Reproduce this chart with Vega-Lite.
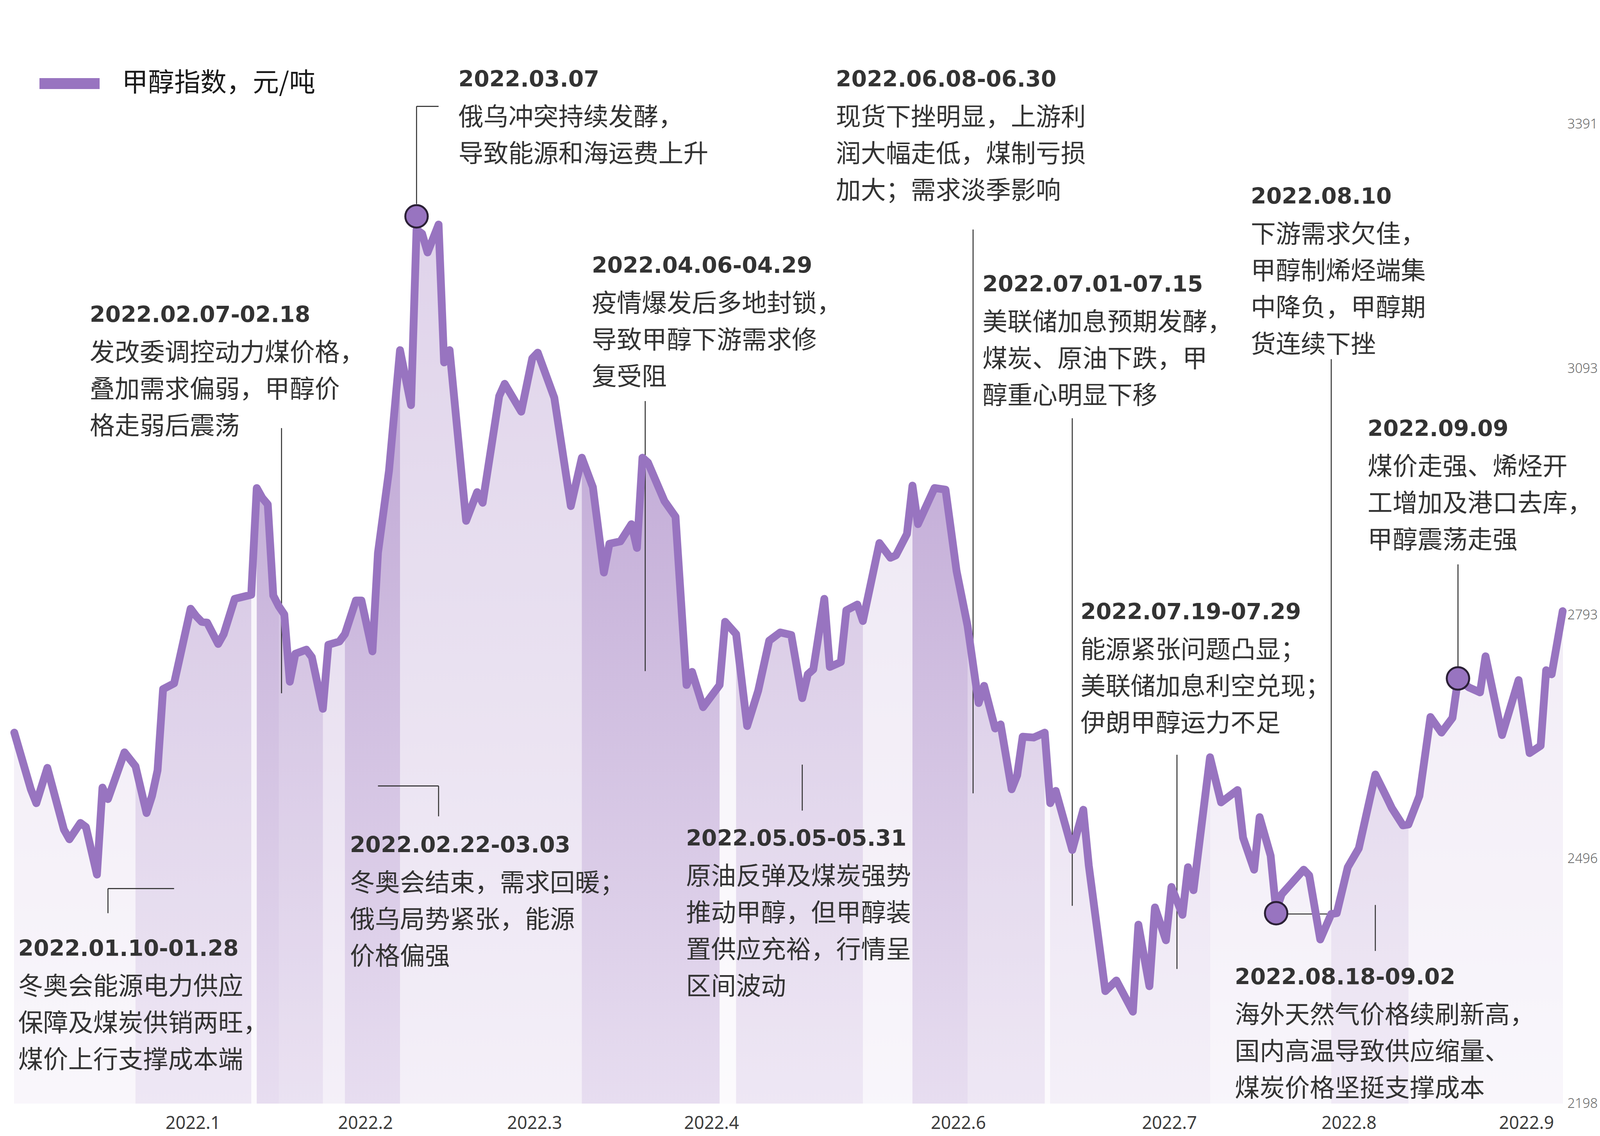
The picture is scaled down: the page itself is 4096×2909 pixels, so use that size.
{
  "$schema": "https://vega.github.io/schema/vega-lite/v6.json",
  "width": 4002,
  "height": 2826,
  "autosize": {"type": "none"},
  "padding": {"left": 0, "top": 0, "right": 94, "bottom": 83},
  "background": "#ffffff",
  "config": {"view": {"stroke": null}},
  "datasets": {
    "price": [
      {"day":0,"value":2650},{"day":3,"value":2581},{"day":4,"value":2564},{"day":6,"value":2607},{"day":9,"value":2532},{"day":10,"value":2520},{"day":12,"value":2540},{"day":13,"value":2535},{"day":15,"value":2477},{"day":16,"value":2583},{"day":17,"value":2569},{"day":20,"value":2626},{"day":22,"value":2609},{"day":24,"value":2552},{"day":25,"value":2573},{"day":26,"value":2604},{"day":27,"value":2703},{"day":29,"value":2710},{"day":32,"value":2801},{"day":33,"value":2792},{"day":34,"value":2785},{"day":35,"value":2784},{"day":37,"value":2758},{"day":38,"value":2770},{"day":40,"value":2813},{"day":43,"value":2818},{"day":44,"value":2948},{"day":45,"value":2936},{"day":46,"value":2928},{"day":47,"value":2817},{"day":48,"value":2804},{"day":49,"value":2794},{"day":50,"value":2712},{"day":51,"value":2746},{"day":53,"value":2751},{"day":54,"value":2742},{"day":56,"value":2679},{"day":57,"value":2757},{"day":59,"value":2761},{"day":60,"value":2770},{"day":62,"value":2811},{"day":63,"value":2811},{"day":65,"value":2749},{"day":66,"value":2869},{"day":68,"value":2969},{"day":70,"value":3116},{"day":72,"value":3049},{"day":73,"value":3263},{"day":74,"value":3258},{"day":75,"value":3235},{"day":77,"value":3269},{"day":78,"value":3101},{"day":79,"value":3116},{"day":82,"value":2908},{"day":84,"value":2943},{"day":85,"value":2930},{"day":88,"value":3060},{"day":89,"value":3075},{"day":92,"value":3041},{"day":94,"value":3106},{"day":95,"value":3113},{"day":98,"value":3058},{"day":101,"value":2926},{"day":103,"value":2985},{"day":105,"value":2949},{"day":107,"value":2845},{"day":108,"value":2880},{"day":110,"value":2883},{"day":112,"value":2904},{"day":113,"value":2875},{"day":114,"value":2985},{"day":115,"value":2979},{"day":118,"value":2932},{"day":120,"value":2913},{"day":122,"value":2708},{"day":123,"value":2724},{"day":125,"value":2681},{"day":128,"value":2708},{"day":129,"value":2785},{"day":131,"value":2770},{"day":133,"value":2658},{"day":135,"value":2701},{"day":137,"value":2762},{"day":139,"value":2772},{"day":141,"value":2769},{"day":143,"value":2692},{"day":144,"value":2721},{"day":145,"value":2727},{"day":147,"value":2813},{"day":148,"value":2730},{"day":150,"value":2736},{"day":151,"value":2799},{"day":153,"value":2806},{"day":154,"value":2786},{"day":157,"value":2881},{"day":159,"value":2863},{"day":160,"value":2866},{"day":162,"value":2892},{"day":163,"value":2951},{"day":164,"value":2904},{"day":167,"value":2948},{"day":169,"value":2946},{"day":171,"value":2847},{"day":173,"value":2780},{"day":175,"value":2686},{"day":176,"value":2707},{"day":178,"value":2655},{"day":179,"value":2660},{"day":181,"value":2581},{"day":182,"value":2598},{"day":183,"value":2645},{"day":185,"value":2644},{"day":187,"value":2650},{"day":188,"value":2564},{"day":189,"value":2579},{"day":192,"value":2507},{"day":194,"value":2556},{"day":195,"value":2488},{"day":198,"value":2335},{"day":200,"value":2348},{"day":203,"value":2310},{"day":204,"value":2416},{"day":206,"value":2341},{"day":207,"value":2437},{"day":209,"value":2397},{"day":210,"value":2462},{"day":212,"value":2428},{"day":213,"value":2486},{"day":214,"value":2458},{"day":217,"value":2620},{"day":219,"value":2565},{"day":222,"value":2580},{"day":223,"value":2522},{"day":225,"value":2483},{"day":226,"value":2547},{"day":228,"value":2500},{"day":229,"value":2433},{"day":230,"value":2453},{"day":234,"value":2483},{"day":235,"value":2476},{"day":237,"value":2398},{"day":239,"value":2429},{"day":240,"value":2430},{"day":242,"value":2486},{"day":244,"value":2509},{"day":247,"value":2599},{"day":249,"value":2572},{"day":250,"value":2558},{"day":252,"value":2537},{"day":253,"value":2538},{"day":255,"value":2573},{"day":257,"value":2669},{"day":259,"value":2650},{"day":261,"value":2668},{"day":262,"value":2715},{"day":264,"value":2705},{"day":266,"value":2699},{"day":267,"value":2743},{"day":270,"value":2647},{"day":273,"value":2714},{"day":275,"value":2625},{"day":277,"value":2634},{"day":278,"value":2726},{"day":279,"value":2721},{"day":281,"value":2798}
    ],
    "grid": [{"value":2198},{"value":2496},{"value":2793},{"value":3093},{"value":3391}],
    "leaders": [
      {"day":17,"day2":17,"value":2460,"value2":2430},
      {"day":17,"day2":29,"value":2460,"value2":2460},
      {"day":48.5,"day2":48.5,"value":3021,"value2":2698},
      {"day":73,"day2":73,"value":3413,"value2":3294},
      {"day":73,"day2":77,"value":3413,"value2":3413},
      {"day":66,"day2":77,"value":2585,"value2":2585},
      {"day":77,"day2":77,"value":2585,"value2":2548},
      {"day":114.5,"day2":114.5,"value":3054,"value2":2725},
      {"day":143,"day2":143,"value":2611,"value2":2555},
      {"day":174,"day2":174,"value":3263,"value2":2576},
      {"day":192,"day2":192,"value":3033,"value2":2439},
      {"day":211,"day2":211,"value":2623,"value2":2362},
      {"day":239,"day2":239,"value":3105,"value2":2429},
      {"day":229,"day2":239,"value":2429,"value2":2429},
      {"day":247,"day2":247,"value":2440,"value2":2384},
      {"day":262,"day2":262,"value":2855,"value2":2716}
    ],
    "markers": [{"day":73,"value":3279},{"day":229,"value":2430},{"day":262,"value":2716}],
    "notes": [
      {"day":0.7,"value":2388,"head":"2022.01.10-01.28","body":"冬奥会能源电力供应\n保障及煤炭供销两旺，\n煤价上行支撑成本端"},
      {"day":13.7,"value":3160,"head":"2022.02.07-02.18","body":"发改委调控动力煤价格，\n叠加需求偏弱，甲醇价\n格走弱后震荡"},
      {"day":80.6,"value":3447,"head":"2022.03.07","body":"俄乌冲突持续发酵，\n导致能源和海运费上升"},
      {"day":60.9,"value":2514,"head":"2022.02.22-03.03","body":"冬奥会结束，需求回暖；\n俄乌局势紧张，能源\n价格偏强"},
      {"day":104.8,"value":3220,"head":"2022.04.06-04.29","body":"疫情爆发后多地封锁，\n导致甲醇下游需求修\n复受阻"},
      {"day":121.9,"value":2522,"head":"2022.05.05-05.31","body":"原油反弹及煤炭强势\n推动甲醇，但甲醇装\n置供应充裕，行情呈\n区间波动"},
      {"day":149.1,"value":3447,"head":"2022.06.08-06.30","body":"现货下挫明显，上游利\n润大幅走低，煤制亏损\n加大；需求淡季影响"},
      {"day":175.7,"value":3197,"head":"2022.07.01-07.15","body":"美联储加息预期发酵，\n煤炭、原油下跌，甲\n醇重心明显下移"},
      {"day":193.5,"value":2798,"head":"2022.07.19-07.29","body":"能源紧张问题凸显；\n美联储加息利空兑现；\n伊朗甲醇运力不足"},
      {"day":224.4,"value":3304,"head":"2022.08.10","body":"下游需求欠佳，\n甲醇制烯烃端集\n中降负，甲醇期\n货连续下挫"},
      {"day":221.5,"value":2353,"head":"2022.08.18-09.02","body":"海外天然气价格续刷新高，\n国内高温导致供应缩量、\n煤炭价格坚挺支撑成本"},
      {"day":245.6,"value":3021,"head":"2022.09.09","body":"煤价走强、烯烃开\n工增加及港口去库，\n甲醇震荡走强"}
    ]
  },
  "encoding": {
    "x": {
      "field": "day", "type": "quantitative", "title": null,
      "scale": {"domain": [-2.593, 281.11], "nice": false, "zero": false},
      "axis": {
        "orient": "bottom",
        "values": [32.4, 63.7, 94.4, 126.5, 171.3, 209.6, 242.2, 274.4],
        "labelExpr": "['2022.1','2022.2','2022.3','2022.4','2022.6','2022.7','2022.8','2022.9'][indexof([32.4, 63.7, 94.4, 126.5, 171.3, 209.6, 242.2, 274.4], datum.value)]",
        "grid": false, "domain": false, "ticks": false, "tickSize": 0,
        "labelPadding": 28, "labelFont": "Noto Sans", "labelFontSize": 45,
        "labelColor": "#3d3d3d", "labelOverlap": false, "labelBound": false,
        "labelFlush": false, "labelLimit": 400
      }
    },
    "y": {
      "field": "value", "type": "quantitative", "title": null,
      "scale": {"domain": [2198, 3542.6], "nice": false, "zero": false},
      "axis": {
        "orient": "right",
        "values": [2198, 2496, 2793, 3093, 3391],
        "format": "d",
        "grid": false, "domain": false, "ticks": false, "tickSize": 0,
        "labelPadding": 10, "labelFont": "Noto Sans", "labelFontSize": 34,
        "labelFontWeight": 300, "labelColor": "#666666", "labelAlign": "left",
        "labelBaseline": "middle", "labelFlush": false, "labelOverlap": false, "labelLimit": 400
      }
    }
  },
  "layer": [
    {
      "data": {"name": "price"},
      "mark": {
        "type": "area",
        "color": {
          "gradient": "linear", "x1": 0, "y1": 0, "x2": 0, "y2": 1,
          "stops": [
            {"offset": 0, "color": "#b99ed1"},
            {"offset": 0.4, "color": "#cab6dc"},
            {"offset": 1, "color": "#e7ddf0"}
          ]
        }
      },
      "encoding": {"y2": {"datum": 2198}}
    },
    {"data": {"name": "price"}, "transform": [{"filter": "datum.day >= 0 && datum.day <= 22"}], "mark": {"type": "area", "color": "#ffffff", "opacity": 0.74}, "encoding": {"y2": {"datum": 2198}}},
    {"data": {"name": "price"}, "transform": [{"filter": "datum.day >= 22 && datum.day <= 43"}], "mark": {"type": "area", "color": "#ffffff", "opacity": 0.3}, "encoding": {"y2": {"datum": 2198}}},
    {"data": {"name": "price"}, "transform": [{"filter": "datum.day >= 43 && datum.day <= 44"}], "mark": {"type": "area", "color": "#ffffff", "opacity": 0.85}, "encoding": {"y2": {"datum": 2198}}},
    {"data": {"name": "price"}, "transform": [{"filter": "datum.day >= 48 && datum.day <= 56"}], "mark": {"type": "area", "color": "#ffffff", "opacity": 0.15}, "encoding": {"y2": {"datum": 2198}}},
    {"data": {"name": "price"}, "transform": [{"filter": "datum.day >= 56 && datum.day <= 60"}], "mark": {"type": "area", "color": "#ffffff", "opacity": 0.55}, "encoding": {"y2": {"datum": 2198}}},
    {"data": {"name": "price"}, "transform": [{"filter": "datum.day >= 70 && datum.day <= 103"}], "mark": {"type": "area", "color": "#ffffff", "opacity": 0.55}, "encoding": {"y2": {"datum": 2198}}},
    {"data": {"name": "price"}, "transform": [{"filter": "datum.day >= 128 && datum.day <= 131"}], "mark": {"type": "area", "color": "#ffffff", "opacity": 0.85}, "encoding": {"y2": {"datum": 2198}}},
    {"data": {"name": "price"}, "transform": [{"filter": "datum.day >= 131 && datum.day <= 154"}], "mark": {"type": "area", "color": "#ffffff", "opacity": 0.3}, "encoding": {"y2": {"datum": 2198}}},
    {"data": {"name": "price"}, "transform": [{"filter": "datum.day >= 154 && datum.day <= 163"}], "mark": {"type": "area", "color": "#ffffff", "opacity": 0.72}, "encoding": {"y2": {"datum": 2198}}},
    {"data": {"name": "price"}, "transform": [{"filter": "datum.day >= 173 && datum.day <= 187"}], "mark": {"type": "area", "color": "#ffffff", "opacity": 0.3}, "encoding": {"y2": {"datum": 2198}}},
    {"data": {"name": "price"}, "transform": [{"filter": "datum.day >= 187 && datum.day <= 188"}], "mark": {"type": "area", "color": "#ffffff", "opacity": 0.85}, "encoding": {"y2": {"datum": 2198}}},
    {"data": {"name": "price"}, "transform": [{"filter": "datum.day >= 188 && datum.day <= 217"}], "mark": {"type": "area", "color": "#ffffff", "opacity": 0.55}, "encoding": {"y2": {"datum": 2198}}},
    {"data": {"name": "price"}, "transform": [{"filter": "datum.day >= 217 && datum.day <= 239"}], "mark": {"type": "area", "color": "#ffffff", "opacity": 0.72}, "encoding": {"y2": {"datum": 2198}}},
    {"data": {"name": "price"}, "transform": [{"filter": "datum.day >= 239 && datum.day <= 253"}], "mark": {"type": "area", "color": "#ffffff", "opacity": 0.4}, "encoding": {"y2": {"datum": 2198}}},
    {"data": {"name": "price"}, "transform": [{"filter": "datum.day >= 253 && datum.day <= 281"}], "mark": {"type": "area", "color": "#ffffff", "opacity": 0.74}, "encoding": {"y2": {"datum": 2198}}},
    {
      "data": {"name": "grid"},
      "mark": {"type": "rule", "color": "#e3e3e3", "strokeWidth": 2.5},
      "encoding": {"x": {"datum": -2.593}, "x2": {"datum": 281.11}}
    },
    {
      "data": {"name": "leaders"},
      "mark": {"type": "rule", "color": "#333333", "strokeWidth": 2.6},
      "encoding": {"x2": {"field": "day2"}, "y2": {"field": "value2"}}
    },
    {
      "data": {"name": "price"},
      "mark": {"type": "line", "strokeWidth": 20, "strokeJoin": "round", "strokeCap": "round"},
      "encoding": {
        "color": {
          "datum": "甲醇指数，元/吨", "type": "nominal",
          "scale": {"range": ["#9874c0"]},
          "legend": {
            "orient": "none", "legendX": 87, "legendY": 123, "title": null,
            "symbolType": "stroke", "symbolSize": 23716, "symbolStrokeWidth": 28,
            "labelFont": "Noto Sans CJK SC", "labelFontSize": 67, "labelColor": "#1a1a1a",
            "labelOffset": 43, "labelLimit": 1000, "padding": 0
          }
        }
      }
    },
    {
      "data": {"name": "markers"},
      "mark": {"type": "circle", "color": "#9874c0", "stroke": "#2b2036", "strokeWidth": 5, "size": 3300, "opacity": 1}
    },
    {
      "data": {"name": "notes"},
      "mark": {"type": "text", "align": "left", "baseline": "middle", "dy": 4, "font": "DejaVu Sans", "fontWeight": "bold", "fontSize": 57, "color": "#333333"},
      "encoding": {"text": {"field": "head"}}
    },
    {
      "data": {"name": "notes"},
      "mark": {"type": "text", "align": "left", "baseline": "top", "dy": 69, "font": "Noto Sans CJK SC", "fontSize": 64, "lineHeight": 94, "lineBreak": "\n", "color": "#333333"},
      "encoding": {"text": {"field": "body"}}
    }
  ]
}
